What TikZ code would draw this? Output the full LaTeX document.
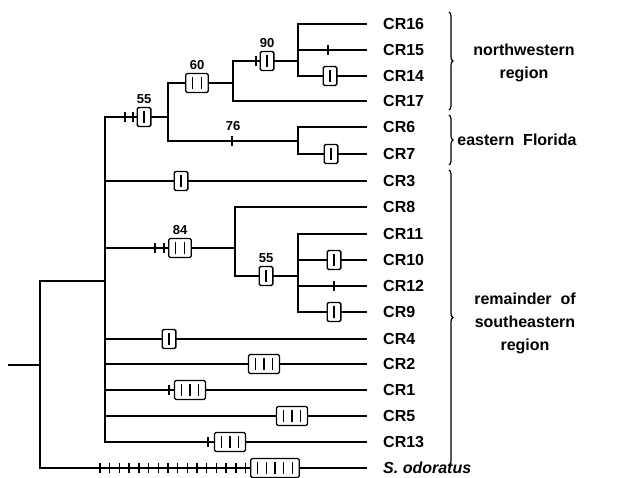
\documentclass[tikz,border=0pt]{standalone}
\usepackage{fontspec}
\setmainfont{Liberation Sans}
\usetikzlibrary{positioning, decorations.pathreplacing}

% 箱の中の縦線 1 本分
\newcommand{\apobar}{\kern3.6pt\rule[-6pt]{1.5pt}{12pt}\kern3.6pt}

\begin{document}
\begin{tikzpicture}[
    x=1pt, y=-1pt,          % 画素と同じ向きで座標を取る
    branch/.style={line width=1.6pt},
    tk/.style={line width=1.4pt},
    apo/.style={draw, fill=white, line width=1.3pt, rounded corners=1.5pt, minimum height=19pt, inner xsep=2.5pt, inner ysep=0.5pt},
    leaf/.style={anchor=west, inner xsep=16pt, inner ysep=0pt, font=\fontsize{16}{18}\selectfont\bfseries},
    supp/.style={font=\fontsize{13}{15}\selectfont\bfseries, inner sep=1pt},
    region/.style={align=center, font=\fontsize{16}{23}\selectfont\bfseries},
    grp/.style={decorate, decoration={brace, amplitude=4pt}, line width=1.2pt}
]
    \useasboundingbox (0,0) rectangle (618,478);

    % --- 末端 ---
    \node [leaf] (cr16) at (367,24)  {CR16};
    \node [leaf] (cr15) at (367,50)  {CR15};
    \node [leaf] (cr14) at (367,76)  {CR14};
    \node [leaf] (cr17) at (367,101) {CR17};
    \node [leaf] (cr6)  at (367,127) {CR6};
    \node [leaf] (cr7)  at (367,154) {CR7};
    \node [leaf] (cr3)  at (367,181) {CR3};
    \node [leaf] (cr8)  at (367,207) {CR8};
    \node [leaf] (cr11) at (367,234) {CR11};
    \node [leaf] (cr10) at (367,260) {CR10};
    \node [leaf] (cr12) at (367,286) {CR12};
    \node [leaf] (cr9)  at (367,312) {CR9};
    \node [leaf] (cr4)  at (367,339) {CR4};
    \node [leaf] (cr2)  at (367,364) {CR2};
    \node [leaf] (cr1)  at (367,390) {CR1};
    \node [leaf] (cr5)  at (367,416) {CR5};
    \node [leaf] (cr13) at (367,442) {CR13};
    \node [leaf] (sod)  at (367,468) {\itshape S. odoratus};

    % --- 分岐点 ---
    \coordinate (stub) at (8,365);
    \coordinate (root) at (40,365);
    \coordinate (n105) at (105,281);
    \coordinate (n168) at (168,117);
    \coordinate (n60)  at (233,83);
    \coordinate (n90)  at (298,61);
    \coordinate (n76)  at (298,141);
    \coordinate (n84)  at (235,248);
    \coordinate (n55)  at (298,276);

    % --- 枝 ---
    \draw [branch] (stub) -- (root);
    \draw [branch] (root) |- (n105);
    \draw [branch] (root) |- (sod.west);

    \draw [branch] (n105) |- (n168);
    \draw [branch] (n105) |- (cr3.west);
    \draw [branch] (n105) |- (n84);
    \draw [branch] (n105) |- (cr4.west);
    \draw [branch] (n105) |- (cr2.west);
    \draw [branch] (n105) |- (cr1.west);
    \draw [branch] (n105) |- (cr5.west);
    \draw [branch] (n105) |- (cr13.west);

    \draw [branch] (n168) |- (n60);
    \draw [branch] (n168) |- (n76);
    \draw [branch] (n60) |- (n90);
    \draw [branch] (n60) |- (cr17.west);
    \draw [branch] (n90) |- (cr16.west);
    \draw [branch] (n90) |- (cr15.west);
    \draw [branch] (n90) |- (cr14.west);
    \draw [branch] (n76) |- (cr6.west);
    \draw [branch] (n76) |- (cr7.west);

    \draw [branch] (n84) |- (cr8.west);
    \draw [branch] (n84) |- (n55);
    \draw [branch] (n55) |- (cr11.west);
    \draw [branch] (n55) |- (cr10.west);
    \draw [branch] (n55) |- (cr12.west);
    \draw [branch] (n55) |- (cr9.west);

    % --- 短い縦線 ---
    \draw [tk] (125,112) -- ++(0,10);
    \draw [tk] (133,112) -- ++(0,10);
    \draw [tk] (256,56) -- ++(0,10);
    \draw [tk] (328,45) -- ++(0,10);
    \draw [tk] (232,136) -- ++(0,10);
    \draw [tk] (155,243) -- ++(0,10);
    \draw [tk] (164,243) -- ++(0,10);
    \draw [tk] (334,281) -- ++(0,10);
    \draw [tk] (169,385) -- ++(0,10);
    \draw [tk] (208,437) -- ++(0,10);
    \foreach \x in {100,109.7,...,247} \draw [tk] (\x,463) -- ++(0,10);

    % --- 箱 ---
    \node [apo] (a55)  at (144,117) {\apobar};
    \node [apo] (a60)  at (197,83)  {\apobar\apobar};
    \node [apo] (a90)  at (267,61)  {\apobar};
    \node [apo] (a14)  at (330,76)  {\apobar};
    \node [apo] (a7)   at (331,154) {\apobar};
    \node [apo] (a3)   at (181,181) {\apobar};
    \node [apo] (a84)  at (180,248) {\apobar\apobar};
    \node [apo] (a55b) at (266,276) {\apobar};
    \node [apo] (a10)  at (334,260) {\apobar};
    \node [apo] (a9)   at (334,312) {\apobar};
    \node [apo] (a4)   at (169,339) {\apobar};
    \node [apo] (a2)   at (264,364) {\apobar\apobar\apobar};
    \node [apo] (a1)   at (190,390) {\apobar\apobar\apobar};
    \node [apo] (a5)   at (292,416) {\apobar\apobar\apobar};
    \node [apo] (a13)  at (230,442) {\apobar\apobar\apobar};
    \node [apo] (asod) at (275,468) {\apobar\apobar\apobar\apobar\apobar};

    % --- 支持値 ---
    \node [supp, above=2pt of a55]  (s55)  {55};
    \node [supp, above=2pt of a60]  (s60)  {60};
    \node [supp, above=2pt of a90]  (s90)  {90};
    \node [supp] (s76) at (233,126) {76};
    \node [supp, above=2pt of a84]  (s84)  {84};
    \node [supp, above=2pt of a55b] (s55b) {55};

    % --- 括弧と地域名 ---
    \draw [grp] (449,12) -- (449,110);
    \draw [grp] (449,115) -- (449,165);
    \draw [grp] (449,170) -- (449,465);
    \node [region] (nw) at (524,63)  {northwestern\\region};
    \node [region] (ef) at (517,140) {eastern\ \ Florida};
    \node [region] (se) at (525,323) {remainder\ \ of\\southeastern\\region};

\end{tikzpicture}
\end{document}
